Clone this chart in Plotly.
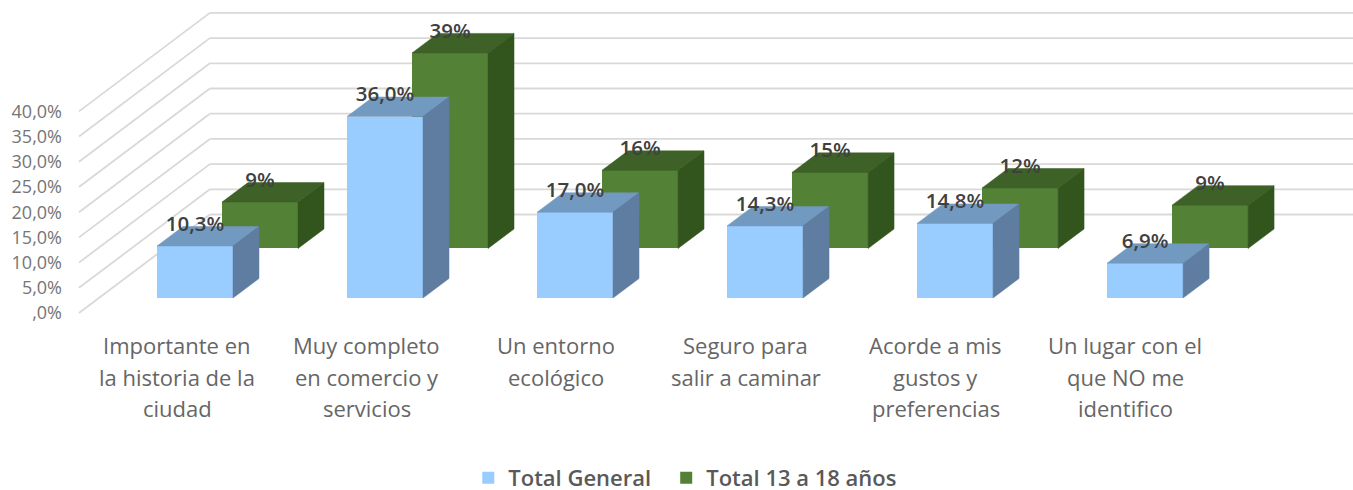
import plotly.graph_objects as go

categories = [
    "Importante en<br>la historia de la<br>ciudad",
    "Muy completo<br>en comercio y<br>servicios",
    "Un entorno<br>ecológico",
    "Seguro para<br>salir a caminar",
    "Acorde a mis<br>gustos y<br>preferencias",
    "Un lugar con el<br>que NO me<br>identifico",
]
total_general = [10.3, 36.0, 17.0, 14.3, 14.8, 6.9]
total_13_18 = [9.2, 38.8, 15.5, 15.1, 12.0, 8.6]
y_ticks = [0, 5, 10, 15, 20, 25, 30, 35, 40]
y_labels = [",0%", "5,0%", "10,0%", "15,0%", "20,0%", "25,0%", "30,0%", "35,0%", "40,0%"]

FONT = "Open Sans"
BAR_W = 0.4
DEPTH_X, DEPTH_Y = 0.1368, 3.87      # oblique depth of one bar
WALL_X0, WALL_DX, WALL_DY = -0.516, 0.689, 19.54
XMAX = 6.189
PLOT_H = 320
LABEL_STEP = 0.998


def oblique_faces(center, floor, value):
    xl, xr = center - BAR_W / 2, center + BAR_W / 2
    top = floor + value
    top_face = ([xl, xr, xr + DEPTH_X, xl + DEPTH_X, xl], [top, top, top + DEPTH_Y, top + DEPTH_Y, top])
    side_face = ([xr, xr + DEPTH_X, xr + DEPTH_X, xr, xr], [floor, floor + DEPTH_Y, top + DEPTH_Y, top, floor])
    return top_face, side_face


series = [
    dict(name="Total 13 a 18 años", vals=total_13_18, dx=0.4368, floor=12.8, legend="legend2",
         front="#538135", top="#3E6127", side="#32541D", fmt=lambda v: f"{v:.0f}%"),
    dict(name="Total General", vals=total_general, dx=0.0947, floor=2.98, legend="legend",
         front="#99CCFF", top="#7299BF", side="#5F7DA1",
         fmt=lambda v: f"{v:.1f}%".replace(".", ",")),
]

fig = go.Figure()

shapes = []
for t in y_ticks:
    xa, ya = WALL_X0, t
    xb, yb = WALL_X0 + WALL_DX, t + WALL_DY
    for p in [(xa, ya, xb, yb), (xb, yb, XMAX, yb)]:
        shapes.append(dict(type="line", xref="x", yref="y", x0=p[0], y0=p[1], x1=p[2], y1=p[3],
                           layer="below", line=dict(color="#D9D9D9", width=1.8)))

for s in series:
    fig.add_trace(go.Bar(
        x=[i + s["dx"] for i in range(len(s["vals"]))], y=s["vals"],
        base=[s["floor"]] * len(s["vals"]), width=BAR_W, name=s["name"], legend=s["legend"],
        marker=dict(color=s["front"], line=dict(width=0)), hoverinfo="skip",
    ))

for s in series:
    for i, v in enumerate(s["vals"]):
        top_f, side_f = oblique_faces(i + s["dx"], s["floor"], v)
        for (fx, fy), col in ((top_f, s["top"]), (side_f, s["side"])):
            fig.add_trace(go.Scatter(x=fx, y=fy, mode="lines", fill="toself", fillcolor=col,
                                     line=dict(color=col, width=0.5), showlegend=False,
                                     hoverinfo="skip"))

for s in series:
    fig.add_trace(go.Scatter(
        x=[i + s["dx"] for i in range(len(s["vals"]))],
        y=[s["floor"] + v + 4.05 for v in s["vals"]],
        text=[s["fmt"](v) for v in s["vals"]], mode="text", textposition="middle center",
        textfont=dict(family=FONT, size=20.5, color="#404040", weight=600),
        showlegend=False, hoverinfo="skip",
    ))

row_px = [345, 377, 408]
annotations = []
for i, cat in enumerate(categories):
    for r, line in enumerate(cat.split("<br>")):
        annotations.append(dict(x=i * LABEL_STEP, y=1 - row_px[r] / PLOT_H, xref="x", yref="paper", text=line,
                                showarrow=False, xanchor="center", yanchor="middle",
                                font=dict(family=FONT, size=22, color="#666666")))

legend_font = dict(family=FONT, size=22, color="#595959", weight=600)
fig.update_layout(
    width=1353, height=490, margin=dict(l=68, r=0, t=0, b=170, autoexpand=False),
    paper_bgcolor="white", plot_bgcolor="white", barmode="overlay", bargap=0,
    shapes=shapes, annotations=annotations,
    xaxis=dict(range=[-0.5737, XMAX], showgrid=False, zeroline=False, showticklabels=False,
               ticks="", showline=False, fixedrange=True),
    yaxis=dict(range=[-1.389, 62.1], showgrid=False, zeroline=False, tickvals=y_ticks, ticktext=y_labels,
               tickfont=dict(family=FONT, size=18, color="#757575"), ticks="", showline=False,
               fixedrange=True, ticklabelstandoff=5),
    legend=dict(orientation="h", x=0.3461, xanchor="left", xref="container", y=0.0245, yanchor="middle",
                yref="container", font=legend_font),
    legend2=dict(orientation="h", x=0.4924, xanchor="left", xref="container", y=0.0245, yanchor="middle",
                 yref="container", font=legend_font),
)

fig.write_html("out.html", config=dict(displayModeBar=False),
               post_script="document.body.style.margin='0';")
